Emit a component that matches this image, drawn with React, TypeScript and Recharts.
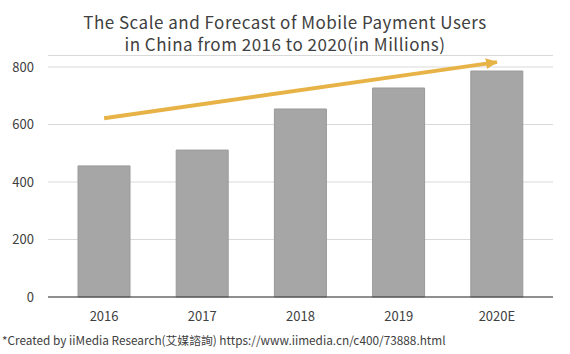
import React from 'react';
import { ComposedChart, Bar, Line, XAxis, YAxis, CartesianGrid } from 'recharts';

const years = ['2016', '2017', '2018', '2019', '2020E'];
const users = [456, 511, 654, 727, 786];
// growth arrow: drawn from the first to the last year only
const trend = [622, null, null, null, 817];
const yTicks = [0, 200, 400, 600, 800];
const titleLines = [
  'The Scale and Forecast of Mobile Payment Users',
  'in China from 2016 to 2020(in Millions)',
];

const FONT = '"Noto Sans CJK SC", "Noto Sans", sans-serif';
const ARROW = '#E7B347';

const data = years.map((year, i) => ({ year, users: users[i], trend: trend[i] }));

const App: React.FC = () => {
  return (
    <div
      style={{
        position: 'absolute',
        left: 0,
        top: 0,
        width: 570,
        height: 354,
        background: '#fff',
        fontFamily: FONT,
      }}
    >
      <svg width={0} height={0} style={{ position: 'absolute' }}>
        <defs>
          <marker
            id="trendArrow"
            markerUnits="userSpaceOnUse"
            markerWidth={12}
            markerHeight={11}
            viewBox="0 0 12 11"
            refX={11}
            refY={5.5}
            orient="auto"
          >
            <path d="M0,0 L12,5.5 L0,11 Z" fill={ARROW} />
          </marker>
        </defs>
      </svg>

      {titleLines.map((line, i) => (
        <div
          key={line}
          style={{
            position: 'absolute',
            top: 13 + i * 22,
            left: 0,
            width: 570,
            textAlign: 'center',
            fontSize: 17,
            letterSpacing: 0.5,
            lineHeight: '18px',
            color: '#404040',
          }}
        >
          {line}
        </div>
      ))}

      <ComposedChart
        width={570}
        height={354}
        data={data}
        margin={{ top: 55.5, right: 17, bottom: 27, left: 0 }}
      >
        <CartesianGrid vertical={false} stroke="#d9d9d9" strokeWidth={1.2} />
        <XAxis
          dataKey="year"
          padding={{ left: 7, right: 7 }}
          height={30}
          tickLine={false}
          axisLine={{ stroke: '#333', strokeWidth: 1.2 }}
          tickMargin={9}
          tick={{ fill: '#404040', fontSize: 13, fontFamily: FONT }}
        />
        <YAxis
          width={48}
          domain={[0, 840]}
          ticks={yTicks}
          axisLine={false}
          tickLine={false}
          tickMargin={8}
          tick={{ fill: '#404040', fontSize: 13, fontFamily: FONT }}
        />
        <Bar dataKey="users" fill="#a6a6a6" stroke="#9a9a9a" strokeWidth={1} barSize={52} isAnimationActive={false} />
        <Line
          dataKey="trend"
          stroke={ARROW}
          strokeWidth={4}
          connectNulls
          dot={false}
          activeDot={false}
          markerEnd="url(#trendArrow)"
          isAnimationActive={false}
        />
      </ComposedChart>

      <div
        style={{
          position: 'absolute',
          top: 331,
          left: 2,
          fontSize: 11.8,
          lineHeight: '18px',
          color: '#404040',
          whiteSpace: 'nowrap',
        }}
      >
        *Created by iiMedia Research(艾媒諮詢) https://www.iimedia.cn/c400/73888.html
      </div>
    </div>
  );
};

export default App;
